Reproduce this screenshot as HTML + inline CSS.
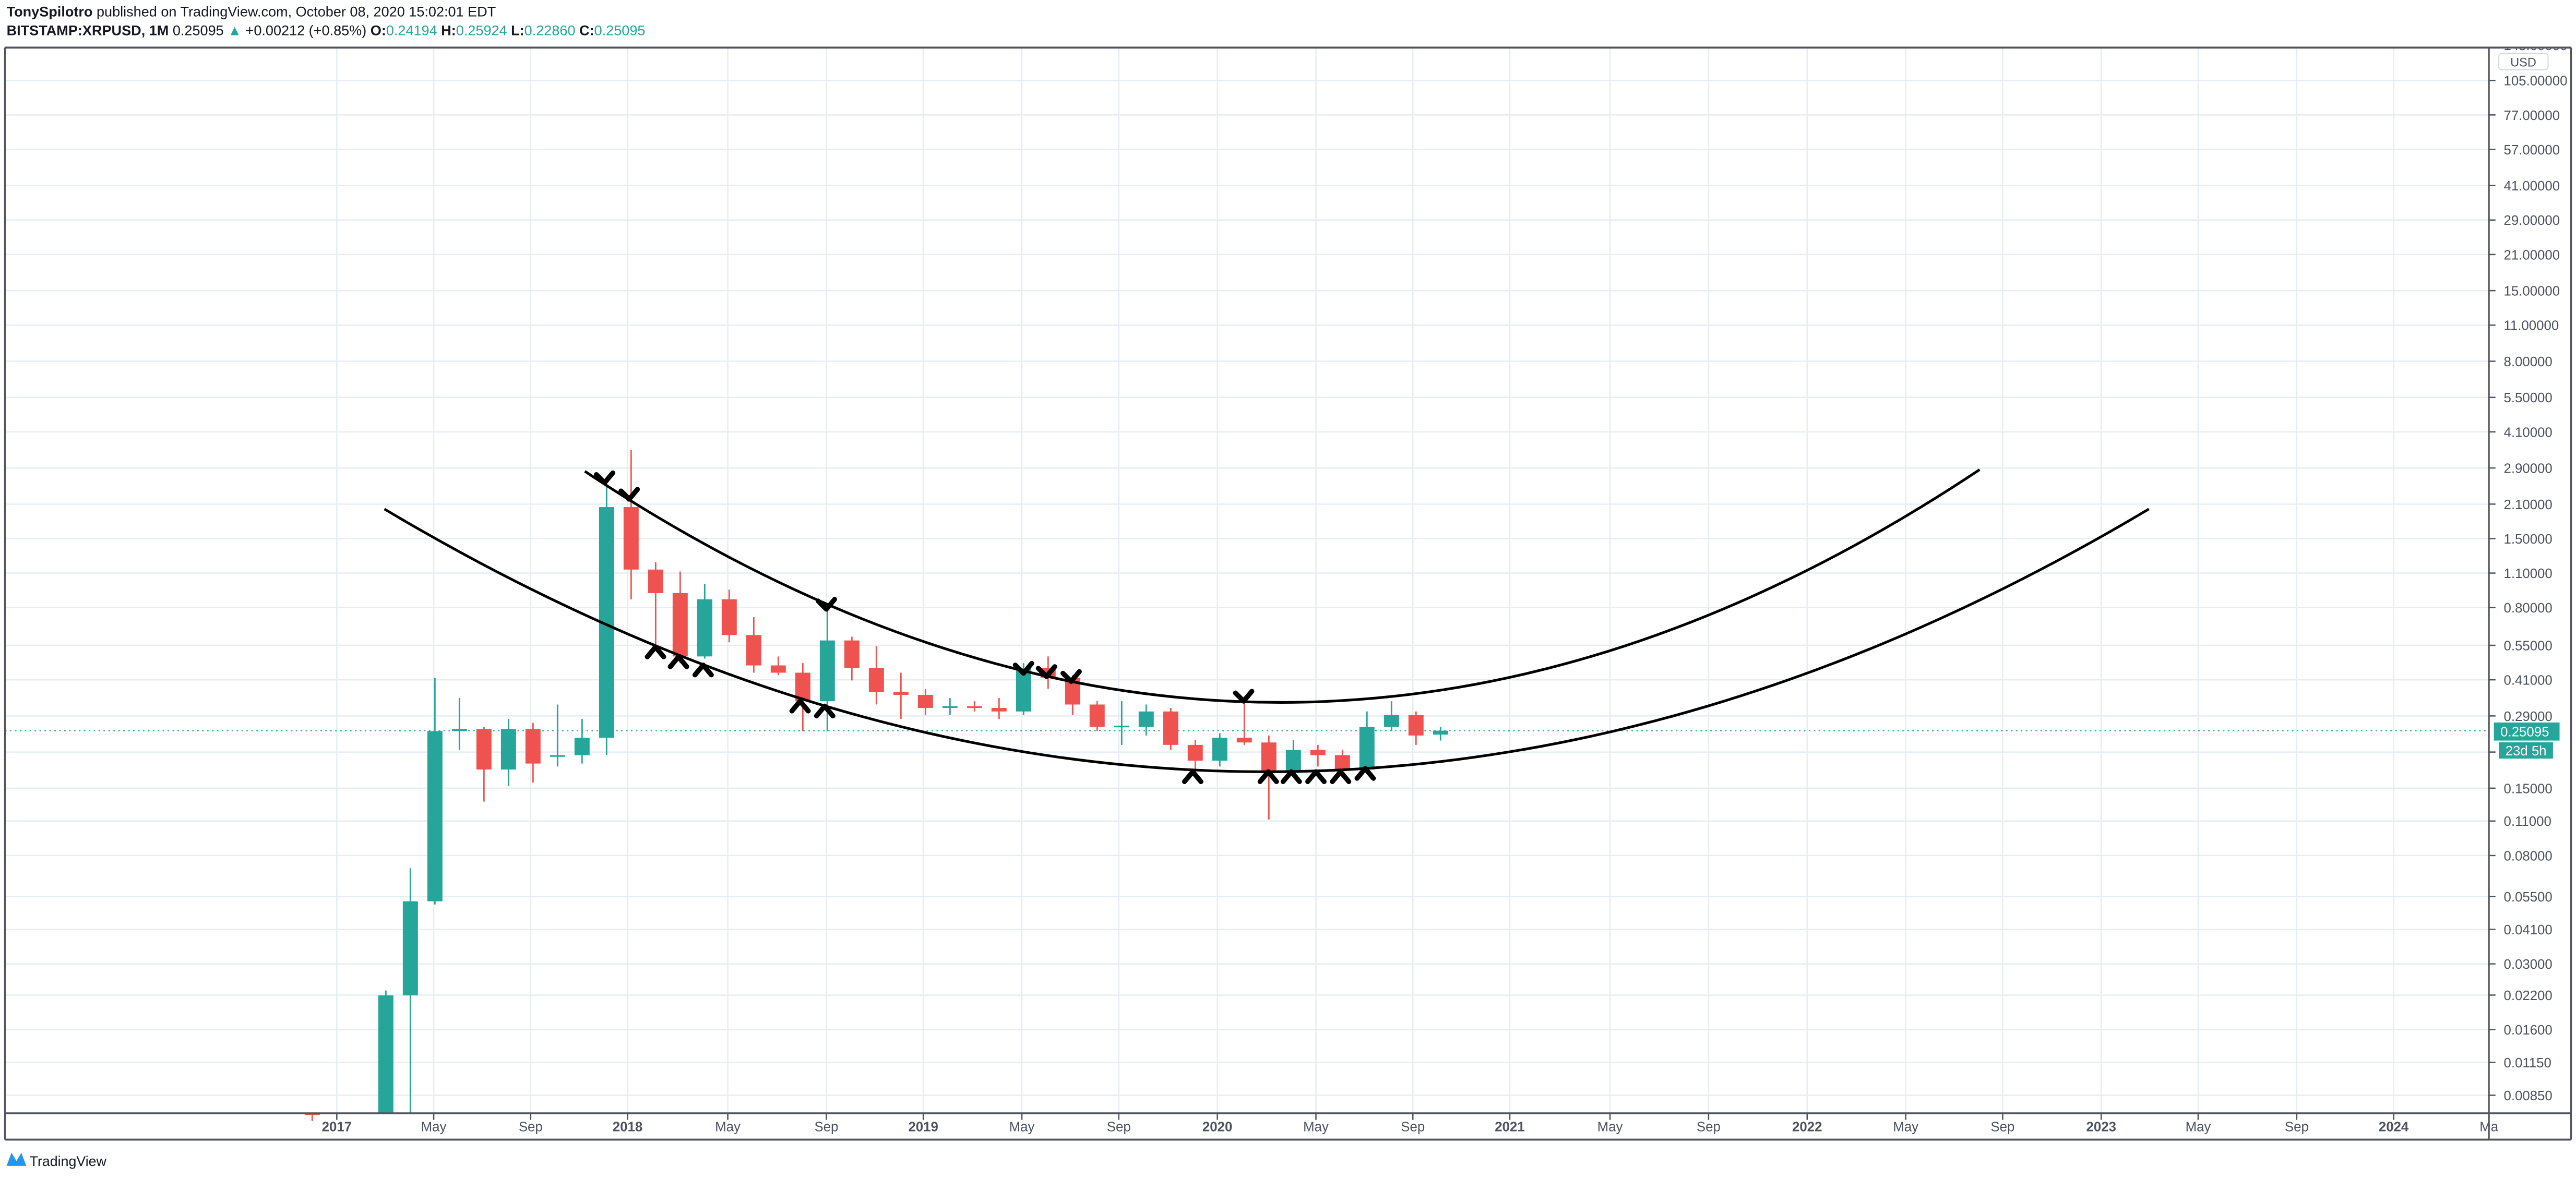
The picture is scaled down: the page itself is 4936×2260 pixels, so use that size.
<!DOCTYPE html>
<html><head><meta charset="utf-8">
<style>
html,body{margin:0;padding:0;background:#fff;width:4936px;height:2260px;overflow:hidden}
svg{display:block}
text{font-family:"Liberation Sans",sans-serif}
</style></head>
<body>
<svg id="s" width="4936" height="2260" viewBox="0 0 1568 718" preserveAspectRatio="none" xmlns="http://www.w3.org/2000/svg">
<defs><clipPath id="pc"><rect x="1516" y="29.6" width="49" height="660"/></clipPath></defs>
<rect width="1568" height="718" fill="#fff"/>
<text x="4" y="10" font-size="8.6" fill="#131722"><tspan font-weight="bold">TonySpilotro</tspan> published on TradingView.com, October 08, 2020 15:02:01 EDT</text>
<text x="4" y="21.5" font-size="8.6" fill="#131722"><tspan font-weight="bold">BITSTAMP:XRPUSD, 1M</tspan> 0.25095 <tspan fill="#26a69a">▲</tspan> +0.00212 (+0.85%) <tspan font-weight="bold">O:</tspan><tspan fill="#26a69a">0.24194</tspan> <tspan font-weight="bold">H:</tspan><tspan fill="#26a69a">0.25924</tspan> <tspan font-weight="bold">L:</tspan><tspan fill="#26a69a">0.22860</tspan> <tspan font-weight="bold">C:</tspan><tspan fill="#26a69a">0.25095</tspan></text>
<g id="grid"></g>
<g id="candles"></g>
<g fill="none" stroke="#000" stroke-width="1.6">
<path d="M356,287 Q780,569 1205,286"/>
<path d="M234,310 Q771,630 1308,310"/>
</g>
<g id="marks" fill="none" stroke="#000" stroke-width="3" stroke-linecap="round" stroke-linejoin="round"></g>
<line x1="3" y1="29" x2="1565" y2="29" stroke="#50535e" stroke-width="1.2"/>
<line x1="3" y1="29" x2="3" y2="694" stroke="#50535e" stroke-width="1"/>
<line x1="1515" y1="29" x2="1515" y2="694" stroke="#50535e" stroke-width="1"/>
<line x1="1565" y1="29" x2="1565" y2="694" stroke="#50535e" stroke-width="1"/>
<line x1="3" y1="678" x2="1565" y2="678" stroke="#50535e" stroke-width="1.2"/>
<line x1="3" y1="694" x2="1565" y2="694" stroke="#50535e" stroke-width="1.2"/>
<rect x="1518" y="440" width="40" height="11" fill="#26a69a"/>
<text x="1522" y="448.5" font-size="8.2" fill="#fff">0.25095</text>
<rect x="1521" y="452" width="33" height="10" fill="#26a69a"/>
<text x="1525" y="460" font-size="8.2" fill="#fff">23d 5h</text>
<g id="tlabels" font-size="8.2" fill="#4c525e" text-anchor="middle">
<text x="205" y="689" font-weight="bold">2017</text><text x="264" y="689">May</text><text x="323" y="689">Sep</text>
<text x="382" y="689" font-weight="bold">2018</text><text x="443" y="689">May</text><text x="503" y="689">Sep</text>
<text x="562" y="689" font-weight="bold">2019</text><text x="622" y="689">May</text><text x="681" y="689">Sep</text>
<text x="741" y="689" font-weight="bold">2020</text><text x="801" y="689">May</text><text x="860" y="689">Sep</text>
<text x="919" y="689" font-weight="bold">2021</text><text x="980" y="689">May</text><text x="1040" y="689">Sep</text>
<text x="1100" y="689" font-weight="bold">2022</text><text x="1160" y="689">May</text><text x="1219" y="689">Sep</text>
<text x="1279" y="689" font-weight="bold">2023</text><text x="1338" y="689">May</text><text x="1398" y="689">Sep</text>
<text x="1457" y="689" font-weight="bold">2024</text><text x="1515" y="689">Ma</text>
</g>
<g font-size="8.2" fill="#4c525e">
<text x="1524" y="30.5" clip-path="url(#pc)">145.00000</text><text x="1524" y="52">105.00000</text><text x="1524" y="73">77.00000</text>
<text x="1524" y="94">57.00000</text><text x="1524" y="116">41.00000</text><text x="1524" y="137">29.00000</text>
<text x="1524" y="158">21.00000</text><text x="1524" y="180">15.00000</text><text x="1524" y="201">11.00000</text>
<text x="1524" y="223">8.00000</text><text x="1524" y="245">5.50000</text><text x="1524" y="266">4.10000</text>
<text x="1524" y="288">2.90000</text><text x="1524" y="310">2.10000</text><text x="1524" y="331">1.50000</text>
<text x="1524" y="352">1.10000</text><text x="1524" y="373">0.80000</text><text x="1524" y="396">0.55000</text>
<text x="1524" y="417">0.41000</text><text x="1524" y="439">0.29000</text><text x="1524" y="483">0.15000</text>
<text x="1524" y="503">0.11000</text><text x="1524" y="524">0.08000</text><text x="1524" y="549">0.05500</text>
<text x="1524" y="569">0.04100</text><text x="1524" y="590">0.03000</text><text x="1524" y="609">0.02200</text>
<text x="1524" y="630">0.01600</text><text x="1524" y="650">0.01150</text><text x="1524" y="670">0.00850</text>
</g>
<rect x="1521" y="32.5" width="30" height="10" rx="2" fill="#fff" stroke="#d1d4dc" stroke-width="0.6"/>
<text x="1528" y="40.5" font-size="7.5" fill="#4c525e">USD</text>
<g transform="translate(4,701)">
<path d="M0,9 L3,1 L6,6 L9,1 L12,9 Z" fill="#2196f3"/>
<text x="14" y="9" font-size="8.5" fill="#131722">TradingView</text>
</g>
</svg>
<script>
var NS="http://www.w3.org/2000/svg";
function Y(p){return 49+65.6*Math.log(105/p);}
function X(m){return 205+14.93*m;}
function el(par,tag,a){var e=document.createElementNS(NS,tag);for(var k in a)e.setAttribute(k,a[k]);document.getElementById(par).appendChild(e);return e;}
var py=[49,70,91,113,134,155,177,198,220,242,263,285,307,328,349,370,393,414,436,458,480,500,521,546,566,587,606,627,647,667];
py.forEach(function(y){el("grid","line",{x1:3,y1:y,x2:1515,y2:y,stroke:"#e6edf3","stroke-width":0.8});el("grid","line",{x1:1515,y1:y,x2:1519,y2:y,stroke:"#50535e","stroke-width":0.8});});
[205,264,323,382,443,503,562,622,681,741,801,860,919,980,1040,1100,1160,1219,1279,1338,1398,1457].forEach(function(x){el("grid","line",{x1:x,y1:29,x2:x,y2:678,stroke:"#e6edf3","stroke-width":0.8});el("grid","line",{x1:x,y1:678,x2:x,y2:682,stroke:"#50535e","stroke-width":0.8});});
el("grid","line",{x1:3,y1:Y(0.25095),x2:1515,y2:Y(0.25095),stroke:"#26a69a","stroke-width":0.7,"stroke-dasharray":"1,2"});
var d=[[-1,0.0066,0.0067,0.0062,0.0063],[2,0.0059,0.0225,0.0058,0.0215],[3,0.0215,0.07,0.006,0.0515],[4,0.0515,0.41,0.05,0.25],[5,0.25,0.34,0.21,0.255],[6,0.255,0.26,0.13,0.175],[7,0.175,0.28,0.15,0.255],[8,0.255,0.27,0.155,0.185],[9,0.2,0.32,0.18,0.2],[10,0.2,0.28,0.185,0.235],[11,0.235,2.5,0.2,2.0],[12,2.0,3.4,0.85,1.12],[13,1.12,1.2,0.55,0.9],[14,0.9,1.1,0.47,0.5],[15,0.5,0.98,0.49,0.85],[16,0.85,0.93,0.57,0.61],[17,0.61,0.72,0.43,0.46],[18,0.46,0.5,0.42,0.43],[19,0.43,0.47,0.25,0.33],[20,0.33,0.78,0.25,0.58],[21,0.58,0.6,0.4,0.45],[22,0.45,0.55,0.32,0.36],[23,0.36,0.43,0.28,0.35],[24,0.35,0.37,0.29,0.31],[25,0.31,0.34,0.29,0.315],[26,0.315,0.33,0.3,0.31],[27,0.31,0.34,0.28,0.3],[28,0.3,0.47,0.29,0.45],[29,0.45,0.5,0.37,0.41],[30,0.41,0.42,0.29,0.32],[31,0.32,0.33,0.25,0.26],[32,0.26,0.33,0.22,0.263],[33,0.26,0.32,0.24,0.3],[34,0.3,0.31,0.21,0.22],[35,0.22,0.23,0.17,0.19],[36,0.19,0.245,0.18,0.235],[37,0.235,0.345,0.22,0.225],[38,0.225,0.24,0.11,0.17],[39,0.17,0.23,0.17,0.21],[40,0.21,0.22,0.18,0.2],[41,0.2,0.21,0.17,0.175],[42,0.175,0.3,0.17,0.26],[43,0.26,0.33,0.25,0.29],[44,0.29,0.3,0.22,0.24],[45,0.242,0.26,0.229,0.251]];
d.forEach(function(c){var x=X(c[0]),up=c[4]>=c[1],col=up?"#26a69a":"#ef5350";
var yh=Math.max(29,Y(c[2])),yl=Math.min(678,Y(c[3]));
el("candles","line",{x1:x,y1:yh,x2:x,y2:yl,stroke:col,"stroke-width":0.9});
var y1=Math.min(678,Y(Math.max(c[1],c[4]))),y2=Math.min(678,Y(Math.min(c[1],c[4])));
el("candles","rect",{x:x-4.6,y:y1,width:9.2,height:Math.max(1,y2-y1),fill:col});});
[[368,292],[383,302],[503,369],[623,408],[637,410],[652,413],[757,425]].forEach(function(p){el("marks","path",{d:"M"+(p[0]-5)+","+(p[1]-3)+" L"+p[0]+","+(p[1]+2)+" L"+(p[0]+5)+","+(p[1]-4)});});
[[399,396],[413,402],[428,407],[487,429],[502,432],[726,472],[772,472],[786,472],[801,472],[816,472],[831,470]].forEach(function(p){el("marks","path",{d:"M"+(p[0]-5)+","+(p[1]+4)+" L"+p[0]+","+(p[1]-2)+" L"+(p[0]+5)+","+(p[1]+4)});});
</script>
</body></html>
